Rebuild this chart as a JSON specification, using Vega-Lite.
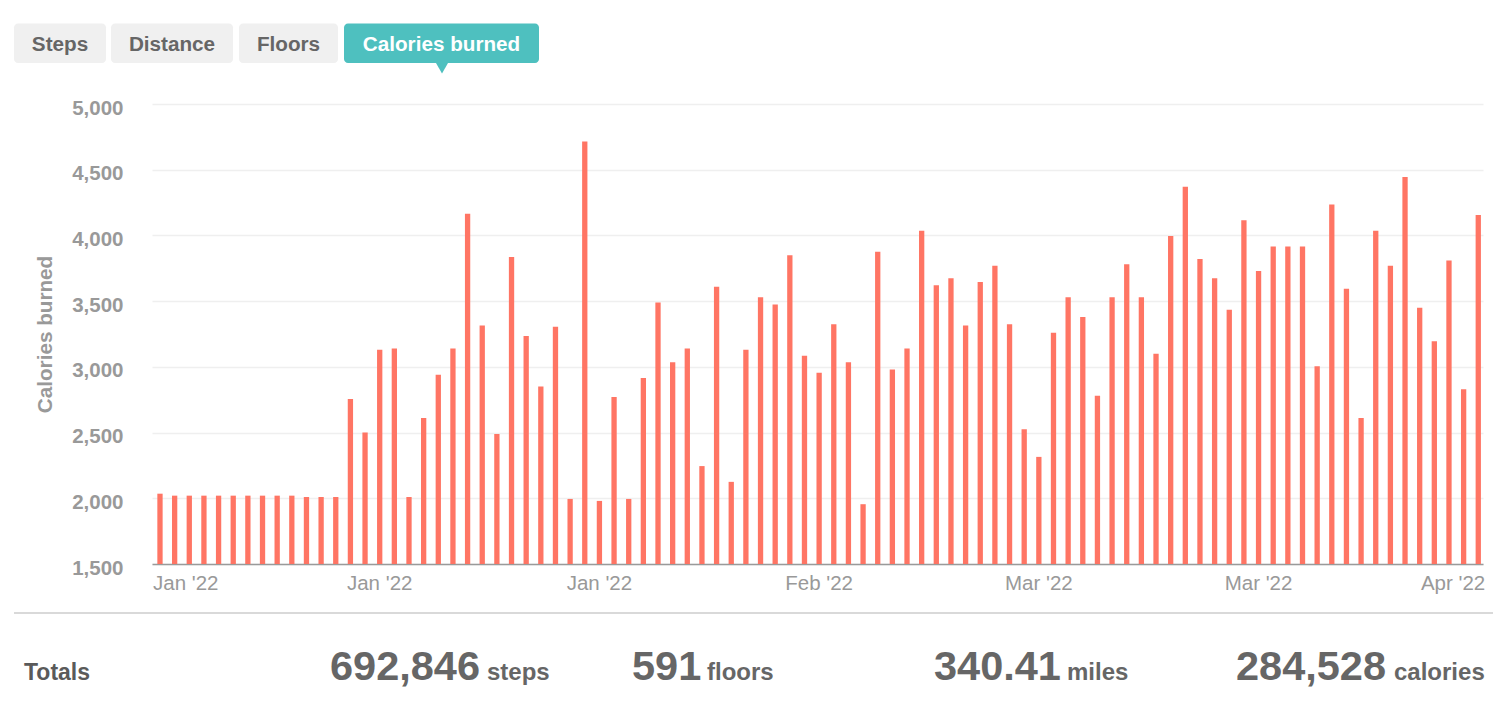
{
  "$schema": "https://vega.github.io/schema/vega-lite/v6.json",
  "width": 1331,
  "height": 460,
  "autosize": "none",
  "padding": {"left": 152, "top": 104, "right": 10, "bottom": 144},
  "background": "white",
  "config": {"font": "Liberation Sans", "view": {"stroke": null}},
  "datasets": {
    "calories": [
      {"date": "2022-01-01", "cal": 2035}, {"date": "2022-01-02", "cal": 2020}, {"date": "2022-01-03", "cal": 2020},
      {"date": "2022-01-04", "cal": 2020}, {"date": "2022-01-05", "cal": 2020}, {"date": "2022-01-06", "cal": 2020},
      {"date": "2022-01-07", "cal": 2020}, {"date": "2022-01-08", "cal": 2020}, {"date": "2022-01-09", "cal": 2020},
      {"date": "2022-01-10", "cal": 2020}, {"date": "2022-01-11", "cal": 2010}, {"date": "2022-01-12", "cal": 2010},
      {"date": "2022-01-13", "cal": 2010}, {"date": "2022-01-14", "cal": 2755}, {"date": "2022-01-15", "cal": 2500},
      {"date": "2022-01-16", "cal": 3130}, {"date": "2022-01-17", "cal": 3140}, {"date": "2022-01-18", "cal": 2010},
      {"date": "2022-01-19", "cal": 2610}, {"date": "2022-01-20", "cal": 2940}, {"date": "2022-01-21", "cal": 3140},
      {"date": "2022-01-22", "cal": 4165}, {"date": "2022-01-23", "cal": 3315}, {"date": "2022-01-24", "cal": 2490},
      {"date": "2022-01-25", "cal": 3835}, {"date": "2022-01-26", "cal": 3235}, {"date": "2022-01-27", "cal": 2850},
      {"date": "2022-01-28", "cal": 3305}, {"date": "2022-01-29", "cal": 1995}, {"date": "2022-01-30", "cal": 4715},
      {"date": "2022-01-31", "cal": 1980},
      {"date": "2022-02-01", "cal": 2770}, {"date": "2022-02-02", "cal": 1995}, {"date": "2022-02-03", "cal": 2915},
      {"date": "2022-02-04", "cal": 3490}, {"date": "2022-02-05", "cal": 3035}, {"date": "2022-02-06", "cal": 3140},
      {"date": "2022-02-07", "cal": 2245}, {"date": "2022-02-08", "cal": 3610}, {"date": "2022-02-09", "cal": 2125},
      {"date": "2022-02-10", "cal": 3130}, {"date": "2022-02-11", "cal": 3530}, {"date": "2022-02-12", "cal": 3475},
      {"date": "2022-02-13", "cal": 3850}, {"date": "2022-02-14", "cal": 3085}, {"date": "2022-02-15", "cal": 2955},
      {"date": "2022-02-16", "cal": 3325}, {"date": "2022-02-17", "cal": 3035}, {"date": "2022-02-18", "cal": 1955},
      {"date": "2022-02-19", "cal": 3875}, {"date": "2022-02-20", "cal": 2980}, {"date": "2022-02-21", "cal": 3140},
      {"date": "2022-02-22", "cal": 4035}, {"date": "2022-02-23", "cal": 3620}, {"date": "2022-02-24", "cal": 3675},
      {"date": "2022-02-25", "cal": 3315}, {"date": "2022-02-26", "cal": 3645}, {"date": "2022-02-27", "cal": 3770},
      {"date": "2022-02-28", "cal": 3325},
      {"date": "2022-03-01", "cal": 2525}, {"date": "2022-03-02", "cal": 2315}, {"date": "2022-03-03", "cal": 3260},
      {"date": "2022-03-04", "cal": 3530}, {"date": "2022-03-05", "cal": 3380}, {"date": "2022-03-06", "cal": 2780},
      {"date": "2022-03-07", "cal": 3530}, {"date": "2022-03-08", "cal": 3780}, {"date": "2022-03-09", "cal": 3530},
      {"date": "2022-03-10", "cal": 3100}, {"date": "2022-03-11", "cal": 3995}, {"date": "2022-03-12", "cal": 4370},
      {"date": "2022-03-13", "cal": 3820}, {"date": "2022-03-14", "cal": 3675}, {"date": "2022-03-15", "cal": 3435},
      {"date": "2022-03-16", "cal": 4115}, {"date": "2022-03-17", "cal": 3730}, {"date": "2022-03-18", "cal": 3915},
      {"date": "2022-03-19", "cal": 3915}, {"date": "2022-03-20", "cal": 3915}, {"date": "2022-03-21", "cal": 3005},
      {"date": "2022-03-22", "cal": 4235}, {"date": "2022-03-23", "cal": 3595}, {"date": "2022-03-24", "cal": 2610},
      {"date": "2022-03-25", "cal": 4035}, {"date": "2022-03-26", "cal": 3770}, {"date": "2022-03-27", "cal": 4445},
      {"date": "2022-03-28", "cal": 3450}, {"date": "2022-03-29", "cal": 3195}, {"date": "2022-03-30", "cal": 3810},
      {"date": "2022-03-31", "cal": 2830},
      {"date": "2022-04-01", "cal": 4155}
    ],
    "tabs": [
      {"label": "Steps", "x0": 14, "x1": 106, "mid": 60, "active": false},
      {"label": "Distance", "x0": 111, "x1": 233, "mid": 172, "active": false},
      {"label": "Floors", "x0": 239, "x1": 338, "mid": 288.5, "active": false},
      {"label": "Calories burned", "x0": 344, "x1": 539, "mid": 441.5, "active": true}
    ],
    "numbers": [
      {"text": "692,846", "x": 330},
      {"text": "591", "x": 632},
      {"text": "340.41", "x": 934},
      {"text": "284,528", "x": 1236}
    ],
    "units": [
      {"text": "steps", "x": 487},
      {"text": "floors", "x": 707},
      {"text": "miles", "x": 1067},
      {"text": "calories", "x": 1394}
    ]
  },
  "layer": [
    {
      "data": {"name": "calories"},
      "mark": {"type": "bar", "color": "#ff7564"},
      "encoding": {
        "x": {
          "field": "date",
          "type": "ordinal",
          "scale": {"paddingInner": 0.638, "paddingOuter": 0.253, "align": 0.72},
          "axis": {
            "title": null,
            "values": ["2022-01-01", "2022-01-16", "2022-01-31", "2022-02-15", "2022-03-02", "2022-03-17", "2022-04-01"],
            "labelExpr": "utcFormat(toDate(datum.value), \"%b '%y\")",
            "labelAngle": 0,
            "labelFlush": 10,
            "labelFlushOffset": 7,
            "labelColor": "#999999",
            "labelFontSize": 20.5,
            "labelPadding": 9,
            "ticks": false,
            "tickSize": 0,
            "domainColor": "#9a9a9a",
            "domainWidth": 1.5,
            "grid": false
          }
        },
        "y": {
          "field": "cal",
          "type": "quantitative",
          "scale": {"domain": [1500, 5000], "nice": false, "zero": false},
          "axis": {
            "title": "Calories burned",
            "titleColor": "#999999",
            "titleFontSize": 20.7,
            "titleFontWeight": "bold",
            "titlePadding": 16,
            "values": [1500, 2000, 2500, 3000, 3500, 4000, 4500, 5000],
            "format": ",.0f",
            "labelColor": "#999999",
            "labelFontSize": 20.5,
            "labelFontWeight": "bold",
            "labelPadding": 29,
            "labelOffset": 4,
            "ticks": false,
            "tickSize": 0,
            "domain": false,
            "gridColor": "#efefef",
            "gridWidth": 1.5
          }
        },
        "y2": {"datum": 1500}
      }
    },
    {
      "data": {"name": "tabs"},
      "mark": {"type": "rect", "cornerRadius": 4},
      "encoding": {
        "x": {"field": "x0", "type": "quantitative", "scale": {"domain": [0, 1493], "range": [-152, 1341], "nice": false, "zero": false}, "axis": null},
        "x2": {"field": "x1"},
        "y": {"datum": 23.5, "type": "quantitative", "scale": {"domain": [0, 708], "range": [-104, 604], "nice": false, "zero": false}, "axis": null},
        "y2": {"datum": 63},
        "color": {"condition": {"test": "datum.active", "value": "#4ec0bf"}, "value": "#f0f0f0"}
      }
    },
    {
      "data": {"name": "tabs"},
      "mark": {"type": "text", "fontSize": 20.7, "fontWeight": "bold", "align": "center", "baseline": "alphabetic"},
      "encoding": {
        "x": {"field": "mid", "type": "quantitative", "scale": {"domain": [0, 1493], "range": [-152, 1341], "nice": false, "zero": false}, "axis": null},
        "y": {"datum": 50.5, "type": "quantitative", "scale": {"domain": [0, 708], "range": [-104, 604], "nice": false, "zero": false}, "axis": null},
        "text": {"field": "label"},
        "color": {"condition": {"test": "datum.active", "value": "#ffffff"}, "value": "#666666"}
      }
    },
    {
      "data": {"values": [{"pointer": "Calories burned"}]},
      "mark": {"type": "point", "shape": "triangle-down", "filled": true, "size": 190, "opacity": 1, "color": "#4ec0bf"},
      "encoding": {
        "x": {"datum": 442, "type": "quantitative", "scale": {"domain": [0, 1493], "range": [-152, 1341], "nice": false, "zero": false}, "axis": null},
        "y": {"datum": 67.5, "type": "quantitative", "scale": {"domain": [0, 708], "range": [-104, 604], "nice": false, "zero": false}, "axis": null}
      }
    },
    {
      "data": {"values": [{"line": "separator"}]},
      "mark": {"type": "rule", "color": "#cccccc", "strokeWidth": 1.5},
      "encoding": {
        "x": {"datum": 14, "type": "quantitative", "scale": {"domain": [0, 1493], "range": [-152, 1341], "nice": false, "zero": false}, "axis": null},
        "x2": {"datum": 1493},
        "y": {"datum": 613, "type": "quantitative", "scale": {"domain": [0, 708], "range": [-104, 604], "nice": false, "zero": false}, "axis": null}
      }
    },
    {
      "data": {"values": [{"text": "Totals"}]},
      "mark": {"type": "text", "fontSize": 23, "fontWeight": "bold", "align": "left", "baseline": "alphabetic", "color": "#5a5a5a"},
      "encoding": {
        "x": {"datum": 24, "type": "quantitative", "scale": {"domain": [0, 1493], "range": [-152, 1341], "nice": false, "zero": false}, "axis": null},
        "y": {"datum": 680, "type": "quantitative", "scale": {"domain": [0, 708], "range": [-104, 604], "nice": false, "zero": false}, "axis": null},
        "text": {"field": "text"}
      }
    },
    {
      "data": {"name": "numbers"},
      "mark": {"type": "text", "fontSize": 41.5, "fontWeight": "bold", "align": "left", "baseline": "alphabetic", "color": "#666666"},
      "encoding": {
        "x": {"field": "x", "type": "quantitative", "scale": {"domain": [0, 1493], "range": [-152, 1341], "nice": false, "zero": false}, "axis": null},
        "y": {"datum": 680, "type": "quantitative", "scale": {"domain": [0, 708], "range": [-104, 604], "nice": false, "zero": false}, "axis": null},
        "text": {"field": "text"}
      }
    },
    {
      "data": {"name": "units"},
      "mark": {"type": "text", "fontSize": 24, "fontWeight": "bold", "align": "left", "baseline": "alphabetic", "color": "#666666"},
      "encoding": {
        "x": {"field": "x", "type": "quantitative", "scale": {"domain": [0, 1493], "range": [-152, 1341], "nice": false, "zero": false}, "axis": null},
        "y": {"datum": 680, "type": "quantitative", "scale": {"domain": [0, 708], "range": [-104, 604], "nice": false, "zero": false}, "axis": null},
        "text": {"field": "text"}
      }
    }
  ],
  "resolve": {"scale": {"x": "independent", "y": "independent", "color": "independent"}}
}
